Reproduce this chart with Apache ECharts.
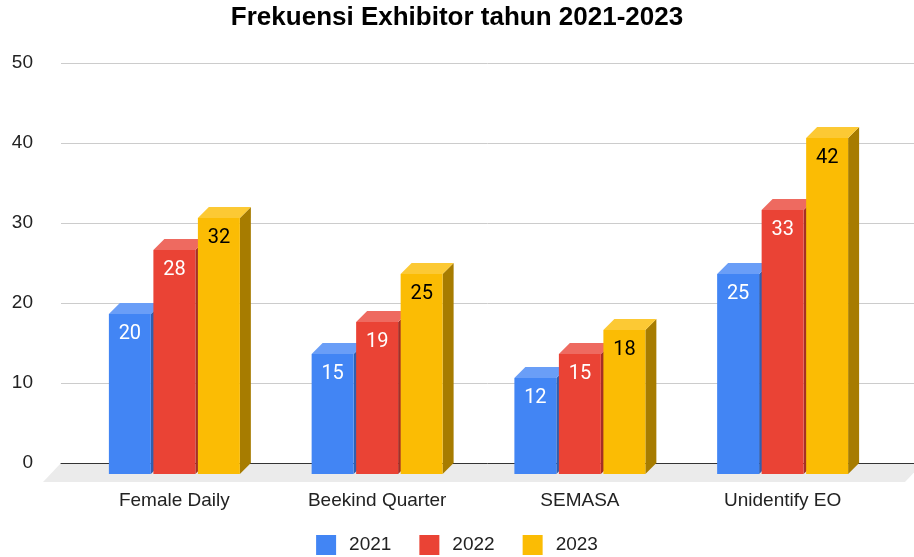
<!doctype html>
<html>
<head>
    <meta charset="utf-8">
    <title>Frekuensi Exhibitor tahun 2021-2023</title>
    <style>
        html, body { margin: 0; padding: 0; background: #fff; }
        #chartEle { width: 914px; height: 557px; }
    </style>
</head>
<body>
<div id="chartEle"></div>
<script src="https://cdn.jsdelivr.net/npm/echarts@6/dist/echarts.min.js"></script>
<script>
    // data
    var categories = ['Female Daily', 'Beekind Quarter', 'SEMASA', 'Unidentify EO'];
    var years = ['2021', '2022', '2023'];
    var val2021 = [20, 15, 12, 25];
    var val2022 = [28, 19, 15, 33];
    var val2023 = [32, 25, 18, 42];
    var yTicks = [0, 10, 20, 30, 40, 50];

    // colours: front, top, side, label
    var faces = [
        {front: '#4285f4', top: '#6a9ef7', side: '#2f5fb0', label: '#fff'},
        {front: '#ea4335', top: '#ee6a60', side: '#a52f26', label: '#fff'},
        {front: '#fbbc04', top: '#fcc934', side: '#a77c00', label: '#000'}
    ];
    var DEPTH = 11; // 3d offset in px

    var myChart = echarts.init(document.getElementById('chartEle'), null, {renderer: 'canvas'});

    function barSeries(name, values, i) {
        return {
            name: name,
            type: 'custom',
            xAxisIndex: 1,
            yAxisIndex: 1,
            itemStyle: {color: faces[i].front},
            data: values.map(function (v, c) { return [c, v]; }),
            renderItem: function (params, api) {
                var c = api.value(0), v = api.value(1);
                var band = api.size([1, 0])[0];
                var base = api.coord([c, 0]);
                var top = api.coord([c, v]);
                var bw = band * 0.207, gap = band * 0.0125;
                var x0 = base[0] - (3 * bw + 2 * gap) / 2 + i * (bw + gap);
                var ty = top[1], by = base[1];
                var f = faces[i];
                return {
                    type: 'group',
                    children: [
                        {type: 'polygon', shape: {points: [[x0 + bw, ty], [x0 + bw + DEPTH, ty - DEPTH], [x0 + bw + DEPTH, by - DEPTH], [x0 + bw, by]]}, style: {fill: f.side}},
                        {type: 'polygon', shape: {points: [[x0, ty], [x0 + bw, ty], [x0 + bw + DEPTH, ty - DEPTH], [x0 + DEPTH, ty - DEPTH]]}, style: {fill: f.top}},
                        {type: 'rect', shape: {x: x0, y: ty, width: bw, height: by - ty}, style: {fill: f.front}},
                        {type: 'text', x: x0 + bw / 2, y: ty + 10, style: {text: String(v), fill: f.label, font: '20px Roboto', align: 'center', verticalAlign: 'top'}}
                    ]
                };
            }
        };
    }

    var option = {
        backgroundColor: '#fff',
        animation: false,
        title: {
            text: 'Frekuensi Exhibitor tahun 2021-2023',
            left: 'center',
            top: 5,
            padding: 0,
            textStyle: {fontFamily: 'Liberation Sans, Arial', fontSize: 26, fontWeight: 'bold', color: '#000'}
        },
        legend: {
            data: years,
            left: 'center',
            top: 535,
            padding: 0,
            icon: 'rect',
            itemWidth: 20,
            itemHeight: 20,
            itemGap: 28,
            textStyle: {fontFamily: 'Liberation Sans, Arial', fontSize: 19, color: '#222', padding: [0, 0, 0, 8]}
        },
        grid: [
            {left: 61, right: 0, top: 63, bottom: 94},
            {left: 73, right: 30, top: 74, bottom: 83}
        ],
        xAxis: [
            {
                gridIndex: 0, type: 'category', data: categories,
                axisLine: {lineStyle: {color: '#333', width: 1}},
                axisTick: {show: false}, axisLabel: {show: false}
            },
            {
                gridIndex: 1, type: 'category', data: categories,
                axisLine: {show: false}, axisTick: {show: false},
                axisLabel: {margin: 17, fontFamily: 'Liberation Sans, Arial', fontSize: 19, color: '#222'}
            }
        ],
        yAxis: [
            {
                gridIndex: 0, type: 'value', min: yTicks[0], max: yTicks[yTicks.length - 1], interval: 10,
                axisLine: {show: false}, axisTick: {show: false},
                axisLabel: {margin: 28, fontFamily: 'Liberation Sans, Arial', fontSize: 19, color: '#222'},
                splitLine: {lineStyle: {color: '#cccccc', width: 1}}
            },
            {
                gridIndex: 1, type: 'value', min: yTicks[0], max: yTicks[yTicks.length - 1],
                show: false, splitLine: {show: false}
            }
        ],
        series: [
            {
                type: 'custom',
                name: 'floor',
                z: -1,
                silent: true,
                xAxisIndex: 1,
                yAxisIndex: 1,
                data: [[0, 0]],
                renderItem: function (params, api) {
                    var cs = params.coordSys;
                    var b = cs.y + cs.height, l = cs.x, r = cs.x + cs.width;
                    return {
                        type: 'polygon',
                        shape: {points: [[l - 12, b - DEPTH], [r + 39, b - DEPTH], [r + 21, b + 8], [l - 30, b + 8]]},
                        style: {fill: '#ebebeb'}
                    };
                }
            },
            barSeries(years[0], val2021, 0),
            barSeries(years[1], val2022, 1),
            barSeries(years[2], val2023, 2)
        ]
    };
    myChart.setOption(option);
</script>
</body>
</html>
